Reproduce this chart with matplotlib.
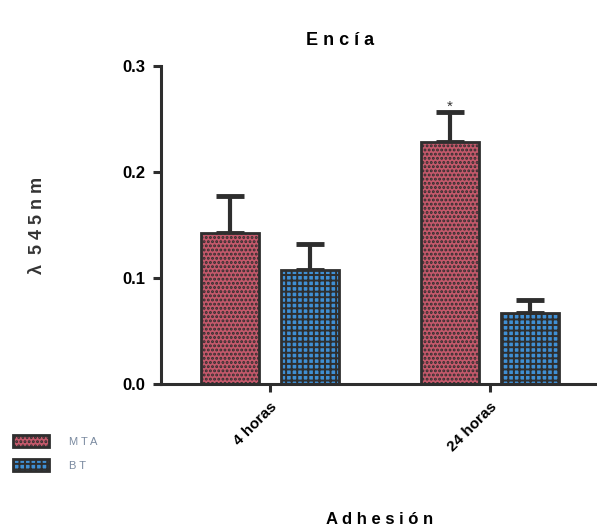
import matplotlib.pyplot as plt
import matplotlib.patches as patches
import numpy as np

plt.rcParams['font.family'] = ['Liberation Sans', 'DejaVu Sans']
plt.rcParams['hatch.linewidth'] = 1.4

# data
groups = ["4 horas", "24 horas"]
series = ["MTA", "BT"]
mta_mean = [0.142, 0.228]
mta_err = [0.035, 0.029]
bt_mean = [0.108, 0.067]
bt_err = [0.024, 0.012]
star_label = "*"


def spaced(s):
    return " ".join(s)


fig = plt.figure(figsize=(5.97, 5.29), dpi=100)
ax = fig.add_axes([161/597, 1 - 384/529, 1 - 161/597, (384 - 66)/529])

x = np.arange(len(groups))
w = 0.265
off = 0.182
edge = "#2e2e2e"

ax.bar(x - off, mta_mean, w, color="#c4596b", edgecolor=edge, linewidth=2,
       hatch="....", zorder=2)
ax.bar(x + off, bt_mean, w, color="#3f8fd4", edgecolor=edge, linewidth=2,
       hatch="+++", zorder=2)

ax.errorbar(x - off, mta_mean, yerr=[[0, 0], mta_err], fmt="none",
            ecolor=edge, elinewidth=3, capsize=10, capthick=3.5, zorder=1)
ax.errorbar(x + off, bt_mean, yerr=[[0, 0], bt_err], fmt="none",
            ecolor=edge, elinewidth=3, capsize=10, capthick=3.5, zorder=1)

# significance mark above MTA at 24 h
ax.text(x[1] - off, mta_mean[1] + mta_err[1] - 0.002, star_label,
        ha="center", va="bottom", fontsize=11, color="#333333")

ax.set_xlim(-0.495, 1.486)
ax.set_ylim(0, 0.3)
ticks = [0.0, 0.1, 0.2, 0.3]
ax.set_yticks(ticks)
ax.set_yticklabels([f"{v:.1f}" for v in ticks], fontsize=12, fontweight="bold")
ax.set_xticks(x)
ax.set_xticklabels(groups, rotation=45, ha="right", rotation_mode="anchor",
                   fontsize=11, fontweight="bold")

for s in ["top", "right"]:
    ax.spines[s].set_visible(False)
for s in ["left", "bottom"]:
    ax.spines[s].set_linewidth(2.2)
    ax.spines[s].set_color(edge)
ax.tick_params(axis="both", width=2.2, length=6, color=edge, pad=5)

fig.text(340/597, 1 - 40/529, spaced("Encía"), ha="center", va="center",
         fontsize=13, fontweight="bold")
fig.text(380/597, 1 - 520/529, spaced("Adhesión"), ha="center", va="center",
         fontsize=12, fontweight="bold")
fig.text(38/597, 1 - 225/529, "λ  " + spaced("545nm"), ha="center", va="center",
         rotation=90, fontsize=13, fontweight="bold", color="#333333")

handles = [patches.Patch(facecolor="#c4596b", edgecolor=edge, hatch="....", linewidth=2),
           patches.Patch(facecolor="#3f8fd4", edgecolor=edge, hatch="+++", linewidth=2)]
fig.legend(handles, [spaced(s) for s in series], loc="center left",
           bbox_to_anchor=(0.005, 1 - 453/529), frameon=False, fontsize=8,
           labelcolor="#7a8aa0", handlelength=3.2, handleheight=1.2,
           labelspacing=1.1, handletextpad=1.8)

fig.savefig("out.png", dpi=100)
